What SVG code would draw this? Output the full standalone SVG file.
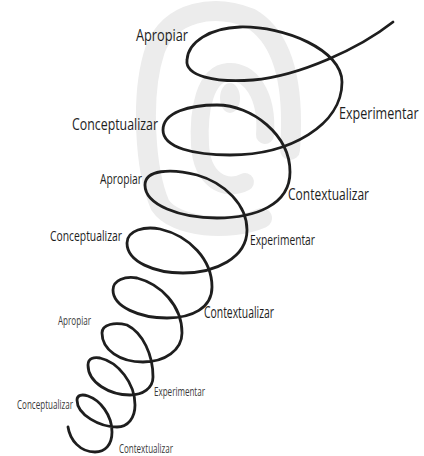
<svg xmlns="http://www.w3.org/2000/svg" width="424" height="456" viewBox="0 0 424 456">
<style>
.wm{fill:none;stroke:#ececec;stroke-linecap:round}
.coil{fill:none;stroke:#1e1e1e;stroke-width:2.8;stroke-linecap:round;stroke-linejoin:round}
.lb{font-family:"Open Sans",Lato,"Liberation Sans",sans-serif;fill:#1e1e1e}
.sm{fill:#3a3a3a}
</style>
<rect width="424" height="456" fill="#ffffff"/>
<g id="watermark">
<path class="wm" stroke-width="20" d="M290,150 C294,95 288,40 250,18 C215,4 170,10 155,50 C140,95 145,170 160,205 C175,228 230,232 262,218"/>
<path class="wm" stroke-width="18" d="M265,135 C268,95 250,70 228,72 C205,74 198,110 200,145 C202,180 225,192 245,182"/>
<ellipse cx="230" cy="98" rx="10" ry="15" fill="#ececec"/>
</g>
<g id="spiral">
<path class="coil" d="M393,22 C360,48 300,76 253,80 C215,83 185,76 187,60 C188,42 210,28 240,27 C285,26 342,50 342,82 C342,125 290,155 230,155 C195,155 163,148 163,130 C163,112 190,105 217,105 C252,105 290,135 290,172 C290,205 255,218 217,218 C180,218 145,205 145,185 C145,170 170,168 197,175 C225,183 247,205 247,230 C247,258 215,273 183,273 C155,273 127,262 127,243 C127,230 145,226 160,229 C190,236 212,260 212,287 C212,308 192,318 167,318 C140,318 113,307 113,290 C113,280 125,276 137,278 C160,284 182,305 182,333 C182,350 165,362 143,362 C120,362 102,350 102,333 C102,324 115,322 127,325 C143,333 153,355 153,377 C153,388 143,395 130,395 C110,395 88,383 88,365 C88,358 94,357 100,358 C118,362 135,383 135,405 C135,418 128,427 117,427 C100,427 77,415 77,400 C77,395 82,394 88,396 C100,400 112,415 112,432 C112,445 105,452 95,452 C80,452 70,440 68,427"/>
</g>
<g id="labels">
<text class="lb" x="136" y="41" font-size="17" textLength="52" lengthAdjust="spacingAndGlyphs">Apropiar</text>
<text class="lb" transform="translate(339,119) scale(0.74,1)" x="0" y="0" font-size="17">Experimentar</text>
<text class="lb" x="72" y="130" font-size="17" textLength="86" lengthAdjust="spacingAndGlyphs">Conceptualizar</text>
<text class="lb" x="100" y="184" font-size="14" textLength="42" lengthAdjust="spacingAndGlyphs">Apropiar</text>
<text class="lb" x="288" y="200" font-size="17" textLength="81" lengthAdjust="spacingAndGlyphs">Contextualizar</text>
<text class="lb" x="50" y="241" font-size="14" textLength="72" lengthAdjust="spacingAndGlyphs">Conceptualizar</text>
<text class="lb" x="250" y="245" font-size="14" textLength="65" lengthAdjust="spacingAndGlyphs">Experimentar</text>
<text class="lb" x="204" y="318" font-size="16" textLength="70" lengthAdjust="spacingAndGlyphs">Contextualizar</text>
<text class="lb sm" x="58" y="325" font-size="12" textLength="33" lengthAdjust="spacingAndGlyphs">Apropiar</text>
<text class="lb sm" x="154" y="396" font-size="12" textLength="51" lengthAdjust="spacingAndGlyphs">Experimentar</text>
<text class="lb sm" x="17" y="409" font-size="12" textLength="56" lengthAdjust="spacingAndGlyphs">Conceptualizar</text>
<text class="lb sm" x="119" y="453" font-size="12" textLength="54" lengthAdjust="spacingAndGlyphs">Contextualizar</text>
</g>
</svg>
